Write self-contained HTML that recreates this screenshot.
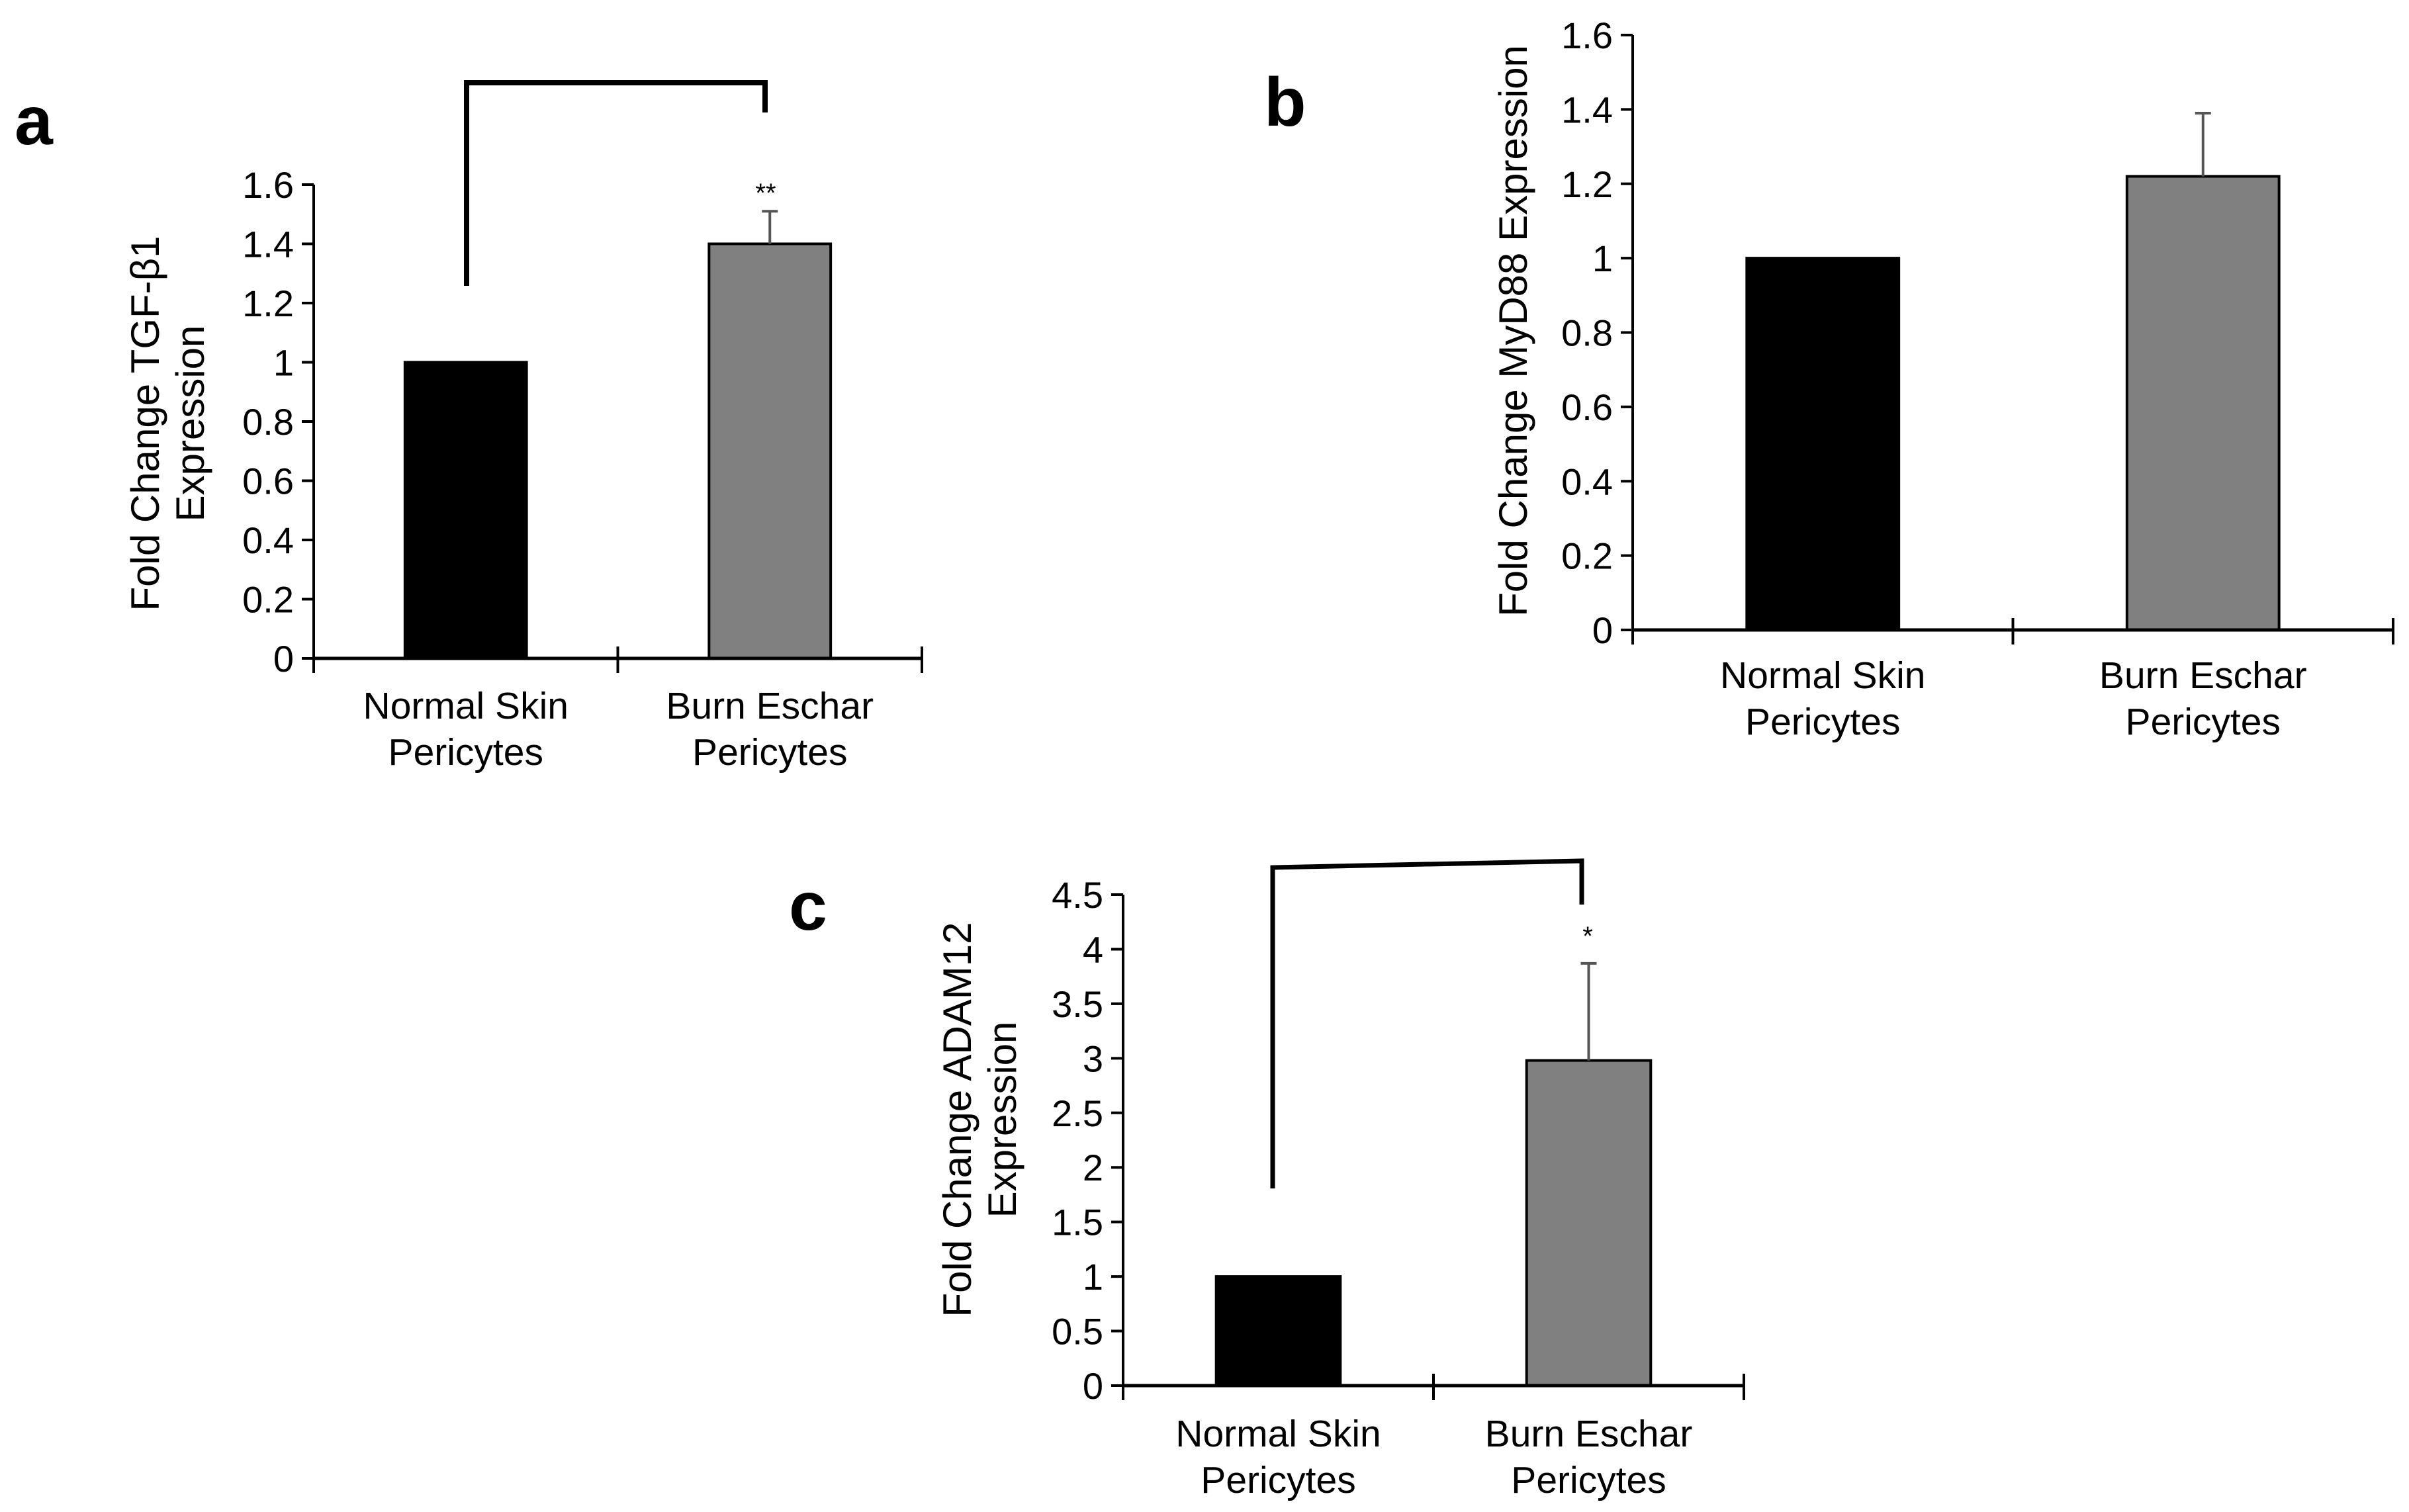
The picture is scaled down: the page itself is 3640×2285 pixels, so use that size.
<!DOCTYPE html>
<html><head><meta charset="utf-8"><style>
html,body{margin:0;padding:0;background:#fff;}
svg{display:block;font-family:"Liberation Sans Narrow","Liberation Sans",sans-serif;}
.pl{font-family:"Liberation Sans",sans-serif;font-weight:bold;}
.yt{font-family:"Liberation Sans",sans-serif;}
</style></head><body>
<svg id="fig" width="3640" height="2285" viewBox="0 0 3640 2285" xmlns="http://www.w3.org/2000/svg">
<text class="pl" x="22" y="218" font-size="104">a</text>
<text class="pl" x="1910" y="190" font-size="104">b</text>
<text class="pl" x="1192" y="1405" font-size="104">c</text>
</svg>
<script>
const categories = ["Normal Skin|Pericytes", "Burn Eschar|Pericytes"];
const aValues = [1.0, 1.4];
const aErrors = [0.0, 0.11];
const aTicks = ["0","0.2","0.4","0.6","0.8","1","1.2","1.4","1.6"];
const bValues = [1.0, 1.22];
const bErrors = [0.0, 0.17];
const bTicks = ["0","0.2","0.4","0.6","0.8","1","1.2","1.4","1.6"];
const cValues = [1.0, 2.98];
const cErrors = [0.0, 0.89];
const cTicks = ["0","0.5","1","1.5","2","2.5","3","3.5","4","4.5"];

const NS = "http://www.w3.org/2000/svg";
const svg = document.getElementById('fig');
function mk(tag, attrs, parent){
  const e = document.createElementNS(NS, tag);
  for (const k in attrs) e.setAttribute(k, attrs[k]);
  (parent||svg).appendChild(e);
  return e;
}
function drawChart(id, cfg, values, errors, ticks){
  const g = mk('g', {});
  
  
  const max = parseFloat(ticks[ticks.length-1]);
  const y = v => cfg.y0 - (v / max) * (cfg.y0 - cfg.yTop);
  const n = categories.length;
  const bandW = (cfg.x1 - cfg.x0) / n;
  const bandX = i => cfg.x0 + i * bandW;
  const colors = ["#000000", "#808080"];
  values.forEach((v, i) => {
    const cx = bandX(i) + bandW / 2;
    const bw = bandW * cfg.barFrac;
    const r = mk('rect', {x: cx - bw/2, y: y(v), width: bw, height: cfg.y0 - y(v), fill: colors[i], stroke: "#000", "stroke-width": 4}, g);
    
    
    if (errors[i] > 0) {
      const eb = mk('path', {d: `M${cx} ${y(v)} V${y(v+errors[i])} M${cx-12} ${y(v+errors[i])} H${cx+12}`, stroke: "#555", "stroke-width": 4, fill: "none"}, g);
      
      
    }
  });
  const ya = mk('path', {d: `M${cfg.x0} ${cfg.yTop} V${cfg.y0}`, stroke: "#000", "stroke-width": 4, fill: "none"}, g);
  
  
  ticks.forEach(t => {
    const ty = y(parseFloat(t));
    mk('line', {x1: cfg.x0 - 18, x2: cfg.x0, y1: ty, y2: ty, stroke: "#000", "stroke-width": 4}, g);
    const tl = mk('text', {x: cfg.x0 - 30, y: ty + 20, "font-size": 56, "text-anchor": "end"}, g);
    tl.textContent = t;
    
    
  });
  const xa = mk('path', {d: `M${cfg.x0} ${cfg.y0} H${cfg.x1}`, stroke: "#000", "stroke-width": 5, fill: "none"}, g);
  
  
  for (let i = 0; i <= n; i++) {
    mk('line', {x1: bandX(i), x2: bandX(i), y1: cfg.y0 - 18, y2: cfg.y0 + 22, stroke: "#000", "stroke-width": 4}, g);
  }
  categories.forEach((c, i) => {
    const cx = bandX(i) + bandW / 2;
    c.split('|').forEach((line, j) => {
      const tl = mk('text', {x: cx, y: cfg.catY + j * 70, "font-size": 57, "text-anchor": "middle"}, g);
      tl.textContent = line;
      
      
    });
  });
  const yt = mk('text', {class: "yt", transform: `translate(${cfg.titleX},${cfg.titleY}) rotate(-90)`, "font-size": 60, "text-anchor": "middle"}, g);
  
  
  cfg.title.forEach((line, j) => {
    const ts = mk('tspan', {x: 0, dy: j === 0 ? 0 : 68}, yt);
    ts.textContent = line;
  });
  return {y, bandX, bandW, g};
}

drawChart('tgf', {x0: 474, x1: 1393, y0: 995, yTop: 279, barFrac: 0.4, catY: 1086, titleX: 240, titleY: 640, title: ["Fold Change TGF-β1", "Expression"]}, aValues, aErrors, aTicks);
drawChart('myd88', {x0: 2467, x1: 3616, y0: 952, yTop: 53, barFrac: 0.4, catY: 1040, titleX: 2307, titleY: 500, title: ["Fold Change MyD88 Expression"]}, bValues, bErrors, bTicks);
drawChart('adam12', {x0: 1697, x1: 2635, y0: 2094, yTop: 1352, barFrac: 0.4, catY: 2186, titleX: 1467, titleY: 1692, title: ["Fold Change ADAM12", "Expression"]}, cValues, cErrors, cTicks);

const br1 = mk('path', {d: "M705 432 V125 H1156 V170", stroke: "#000", "stroke-width": 8, fill: "none"});


const s1 = mk('text', {x: 1157, y: 305, "font-size": 40, "text-anchor": "middle"});
s1.textContent = "**";


const br2 = mk('path', {d: "M1923 1796 V1311 L2390 1301 V1367", stroke: "#000", "stroke-width": 7, fill: "none"});


const s2 = mk('text', {x: 2399, y: 1428, "font-size": 40, "text-anchor": "middle"});
s2.textContent = "*";


</script>
</body></html>
